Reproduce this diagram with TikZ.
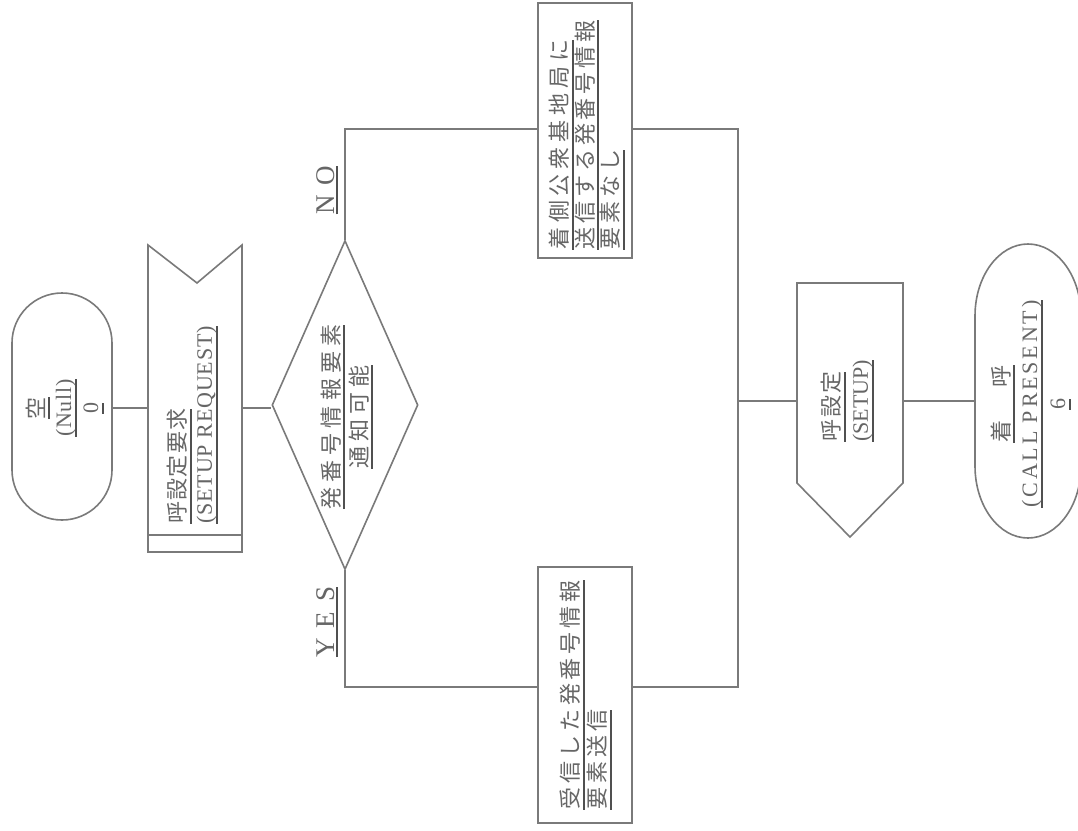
\documentclass[tikz,border=0pt]{standalone}
\usepackage{fontspec}
\setmainfont{Liberation Serif}
\newfontfamily\jp{Noto Sans CJK JP}
\usetikzlibrary{shapes.geometric}
\definecolor{ln}{HTML}{7A7A7A}
\definecolor{tx}{HTML}{666666}
\definecolor{ulc}{HTML}{505050}
\newcommand{\Jls}[2]{{\jp\addfontfeature{LetterSpace=#1}#2}}
\newcommand{\Lls}[2]{{\addfontfeature{LetterSpace=#1}#2}}
\newcommand{\ul}[1]{\setbox0\hbox{#1}\leavevmode\rlap{\smash{\color{ulc}\rule[-6pt]{\wd0}{2pt}}}\box0}
\newcommand{\ulc}[1]{\setbox0\hbox{#1}\leavevmode\rlap{\smash{\color{ulc}\rule[-3.5pt]{\wd0}{2pt}}}\box0}
\begin{document}
\begin{tikzpicture}[x=1pt,y=-1pt,
  conn/.style={draw=ln, line width=1.6pt},
  shp/.style={draw=ln, line width=1.6pt},
  lbl/.style={rotate=90, text=tx, inner sep=0pt},
  ghost/.style={inner sep=0pt, outer sep=0pt}]
\fill[white] (0,0) rectangle (1078,830);
\useasboundingbox (0,0) rectangle (1078,830);

% ---- start terminal: 空 (Null) 0
\node[ghost, minimum width=100pt, minimum height=227pt] (start) at (62,406.5) {};
\draw[shp] (12,343) -- (12,470) arc[start angle=180, end angle=0, x radius=50, y radius=50]
  -- (112,343) arc[start angle=0, end angle=-180, x radius=50, y radius=50] -- cycle;
\node[lbl, align=center, font=\fontsize{22}{27}\selectfont] (t0) at (62,408)
  {\ul{\jp 空}\\\ul{\Lls{3}{(Null)}}\\\ul{0}};

% ---- receive signal: 呼設定要求 (SETUP REQUEST)
\coordinate (rcvW) at (148,408);
\coordinate (rcvE) at (242,408);
\draw[shp] (148,245) -- (197,283) -- (242,245) -- (242,552) -- (148,552) -- cycle;
\draw[shp] (148,535) -- (242,535);
\node[lbl, align=left, anchor=west, font=\fontsize{22}{26}\selectfont] (t1) at (192,524)
  {\ul{\Jls{6}{呼設定要求}}\\\ul{\Lls{4}{(SETUP REQUEST)}}};

% ---- decision
\node[diamond, shp, minimum width=146pt, minimum height=329pt, inner sep=0pt] (dec) at (345,405) {};
\node[lbl, align=center, font=\fontsize{22}{28}\selectfont] (t2) at (345,417)
  {\ul{\Jls{23}{発番号情報要素}}\\\ul{\Jls{23}{通知可能}}};

% ---- NO / YES labels
\node[lbl, font=\fontsize{27}{30}\selectfont] (tno) at (326,190) {\ulc{\Lls{36}{NO}}};
\node[lbl, font=\fontsize{27}{30}\selectfont] (tyes) at (326,622) {\ulc{\Lls{36}{YES}}};

% ---- NO task box
\node[draw=ln, line width=1.6pt, minimum width=94pt, minimum height=255pt, inner sep=0pt] (nobox) at (585,130.5) {};
\node[lbl, align=left, anchor=west, font=\fontsize{22}{25.5}\selectfont] (t3) at (585,250)
  {\ul{\Jls{22}{着側公衆基地局に}}\\\ul{\Jls{18}{送信する発番号情報}}\\\ul{\Jls{18}{要素なし}}};

% ---- YES task box
\node[draw=ln, line width=1.6pt, minimum width=94pt, minimum height=256pt, inner sep=0pt] (yesbox) at (585,695) {};
\node[lbl, align=left, anchor=west, font=\fontsize{22}{27}\selectfont] (t4) at (584,810)
  {\ul{\Jls{18}{受信した発番号情報}}\\\ul{\Jls{18}{要素送信}}};

% ---- send signal: 呼設定 (SETUP)
\coordinate (sndW) at (797,401);
\coordinate (sndE) at (903,401);
\draw[shp] (797,283) -- (903,283) -- (903,483) -- (850,537) -- (797,483) -- cycle;
\node[lbl, align=left, anchor=west, font=\fontsize{22}{28}\selectfont] (t5) at (847,442)
  {\ul{\Jls{9}{呼設定}}\\\ul{(SETUP)}};

% ---- end terminal: 着呼 (CALL PRESENT) 6
\node[ghost, minimum width=106pt, minimum height=294pt] (endst) at (1028,391) {};
\draw[shp] (975,316) -- (975,466) arc[start angle=180, end angle=0, x radius=53, y radius=72]
  -- (1081,316) arc[start angle=0, end angle=-180, x radius=53, y radius=72] -- cycle;
\node[lbl, align=center, font=\fontsize{22}{28}\selectfont] (t6) at (1028,404)
  {\ul{\Jls{27}{着　呼}}\\\ul{\Lls{13}{(CALL PRESENT)}}\\\ul{6}};

% ---- connectors
\coordinate (noIn) at (538,129);
\coordinate (noOut) at (632,129);
\coordinate (yesIn) at (538,687);
\coordinate (yesOut) at (632,687);
\coordinate (join) at (738,401);
\draw[conn] (rcvW -| start.east) -- (rcvW);
\draw[conn] (rcvE) -- (rcvE -| dec.west);
\draw[conn] (dec.north) |- (noIn);
\draw[conn] (dec.south) |- (yesIn);
\draw[conn] (noOut) -| (join);
\draw[conn] (yesOut) -| (join);
\draw[conn] (join) -- (sndW);
\draw[conn] (sndE) -- (sndE -| endst.west);
\end{tikzpicture}
\end{document}
